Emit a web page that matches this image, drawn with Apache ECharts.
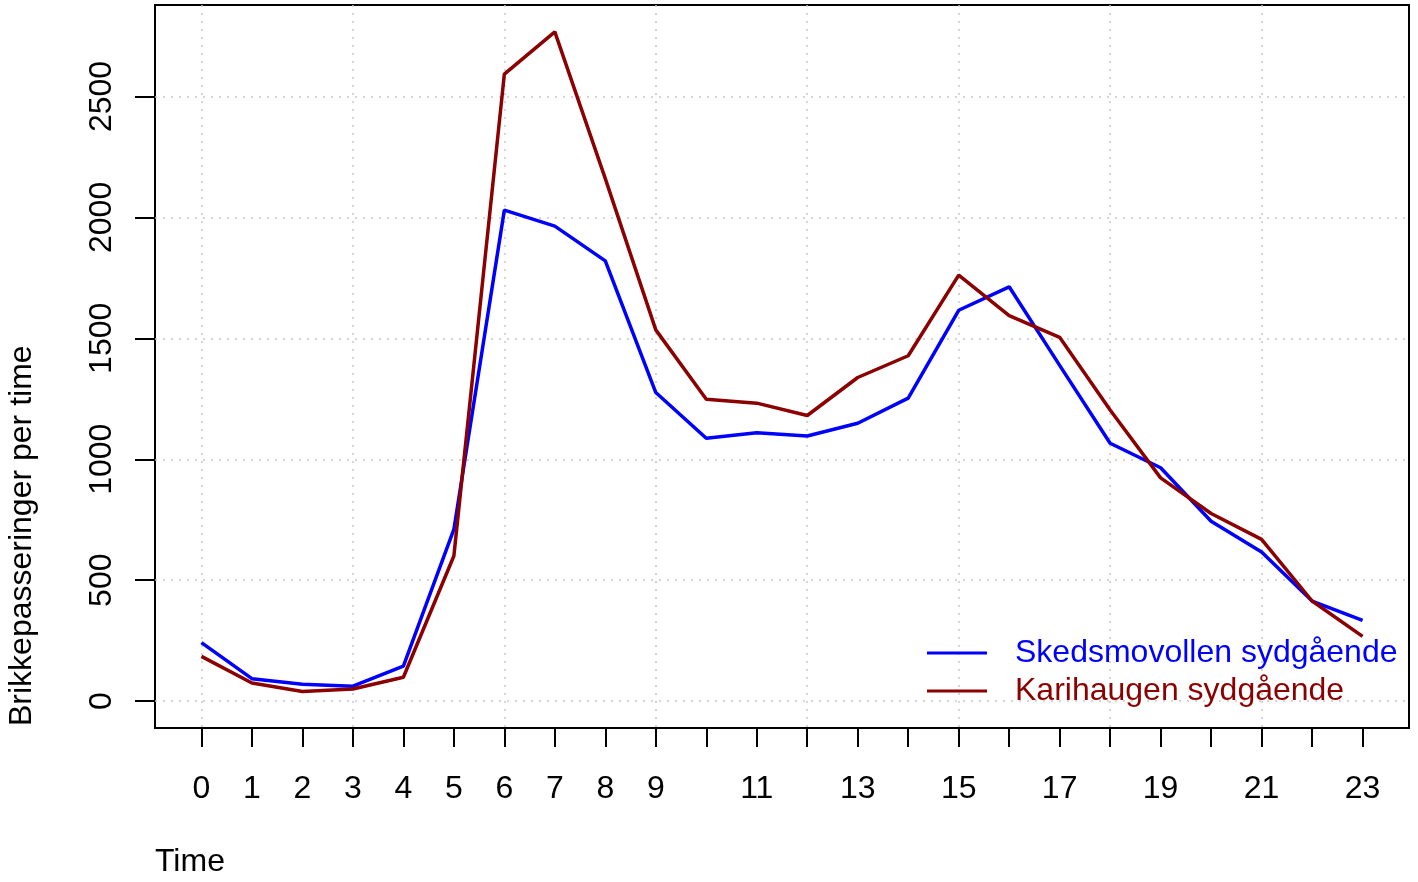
<!DOCTYPE html>
<html>
<head>
<meta charset="utf-8">
<script src="https://cdn.jsdelivr.net/npm/echarts@6/dist/echarts.min.js"></script>
<style>html,body{margin:0;padding:0;background:#fff;}#c{width:1418px;height:882px;}</style>
</head>
<body>
<div id="c"></div>
<script>
const hours = [0,1,2,3,4,5,6,7,8,9,10,11,12,13,14,15,16,17,18,19,20,21,22,23];
const skedsmovollen = [242,93,70,62,145,710,2030,1964,1820,1276,1087,1110,1096,1149,1253,1616,1713,1388,1066,965,744,617,414,334];
const karihaugen = [185,75,40,50,99,600,2592,2767,2160,1535,1248,1232,1181,1338,1428,1761,1594,1504,1204,923,776,669,414,268];
const seriesNames = ['Skedsmovollen sydgående','Karihaugen sydgående'];
const seriesColors = ['#0000FF','#8B0000'];
const xTickValues = hours;
const xLabelValues = [0,1,2,3,4,5,6,7,8,9,11,13,15,17,19,21,23];
const xGridValues = [0,3,6,9,12,15,18,21];
const yTickValues = [0,500,1000,1500,2000,2500];

const FONT = 'Liberation Sans, Arial, Helvetica, sans-serif';
const FS = 32;
const chart = echarts.init(document.getElementById('c'), null, {renderer:'canvas'});
const gridLine = {show:true, lineStyle:{color:'#c8c8c8', width:1.5, type:[2,6]}};
chart.setOption({
  animation:false,
  backgroundColor:'#ffffff',
  grid:{left:155, right:9, top:5, bottom:154, show:true, borderColor:'#000', borderWidth:2, backgroundColor:'transparent', outerBoundsMode:'none', containLabel:false},
  xAxis:[{
    type:'value', min:-0.92, max:23.92, position:'bottom',
    axisLine:{show:false, onZero:false},
    axisTick:{show:true, length:19, inside:false, customValues:xTickValues, lineStyle:{color:'#000', width:2}},
    axisLabel:{show:true, customValues:xLabelValues, margin:45, color:'#000', fontSize:FS, fontFamily:FONT, formatter:v=>String(v)},
    splitLine:{show:false}
  },{
    type:'value', min:-0.92, max:23.92, position:'top',
    axisLine:{show:false, onZero:false},
    axisTick:{show:false, customValues:xGridValues},
    axisLabel:{show:false},
    splitLine:gridLine
  }],
  yAxis:{
    type:'value', min:-111, max:2878,
    axisLine:{show:false, onZero:false},
    axisTick:{show:true, length:20, inside:false, customValues:yTickValues, lineStyle:{color:'#000', width:2}},
    axisLabel:{show:true, customValues:yTickValues, rotate:90, margin:37, color:'#000', fontSize:FS, fontFamily:FONT, formatter:v=>String(v)},
    splitLine:gridLine
  },
  legend:{
    show:true, orient:'vertical', left:927, top:637, itemGap:6, padding:0,
    icon:'rect', itemWidth:60, itemHeight:3,
    textStyle:{fontSize:FS, fontFamily:FONT, lineHeight:32, padding:[0,0,0,23]},
    data:seriesNames.map((n,i)=>({name:n, textStyle:{color:seriesColors[i]}}))
  },
  graphic:[
    {type:'text', x:22, y:726, rotation:Math.PI/2, style:{text:'Brikkepasseringer per time', font:FS+'px '+FONT, fill:'#000', align:'left', verticalAlign:'middle'}},
    {type:'text', x:155, y:862, style:{text:'Time', font:FS+'px '+FONT, fill:'#000', align:'left', verticalAlign:'middle'}}
  ],
  series:[
    {name:seriesNames[0], type:'line', xAxisIndex:0, symbol:'none', data:hours.map((h,i)=>[h,skedsmovollen[i]]), lineStyle:{color:seriesColors[0], width:3.5}, itemStyle:{color:seriesColors[0]}, z:3},
    {name:seriesNames[1], type:'line', xAxisIndex:0, symbol:'none', data:hours.map((h,i)=>[h,karihaugen[i]]), lineStyle:{color:seriesColors[1], width:3.5}, itemStyle:{color:seriesColors[1]}, z:4}
  ]
});
</script>
</body>
</html>
